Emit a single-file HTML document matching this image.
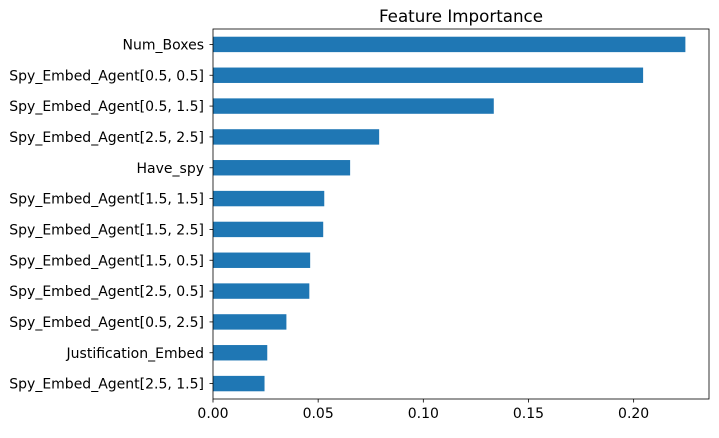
<!DOCTYPE html>
<html><head><meta charset="utf-8"><style>
body{margin:0;background:#fff;font-family:"Liberation Sans","DejaVu Sans",sans-serif;}
svg text{font-family:"DejaVu Sans","Liberation Sans",sans-serif;font-size:14px;fill:#000;}
</style></head><body>
<svg id="chart" width="719" height="433" viewBox="0 0 719 433" xmlns="http://www.w3.org/2000/svg"></svg>
<script>
const categories = ["Spy_Embed_Agent[2.5, 1.5]","Justification_Embed","Spy_Embed_Agent[0.5, 2.5]","Spy_Embed_Agent[2.5, 0.5]","Spy_Embed_Agent[1.5, 0.5]","Spy_Embed_Agent[1.5, 2.5]","Spy_Embed_Agent[1.5, 1.5]","Have_spy","Spy_Embed_Agent[2.5, 2.5]","Spy_Embed_Agent[0.5, 1.5]","Spy_Embed_Agent[0.5, 0.5]","Num_Boxes"];
const values = [0.0245,0.0258,0.0349,0.0458,0.0462,0.0524,0.0529,0.0652,0.079,0.1335,0.2045,0.2246];
const xTicks = [0,0.05,0.10,0.15,0.20];
const xTickLabels = ["0.00","0.05","0.10","0.15","0.20"];

const NS="http://www.w3.org/2000/svg";
const svg=document.getElementById('chart');
const L=213,R=709,T=29,B=399;
const xMax=Math.max(...values)*1.05;
const x=v=>L+(v/xMax)*(R-L);
const step=(B-T)/categories.length;
const y=i=>B-step*(i+0.5);
function mk(tag,attrs){const e=document.createElementNS(NS,tag);for(const k in attrs)e.setAttribute(k,attrs[k]);svg.appendChild(e);return e;}

categories.forEach((c,i)=>{
  const r=mk('rect',{x:x(0),y:y(i)-step*0.25,width:x(values[i])-x(0),height:step*0.5,fill:'#1f77b4'});
  
  
  const tk=mk('line',{x1:L-3.5,x2:L,y1:y(i),y2:y(i),stroke:'#000','stroke-width':0.8});
  
  
  const t=mk('text',{x:L-9,y:y(i)+5,'text-anchor':'end'});
  t.textContent=c;
  
  
});
xTicks.forEach((v,i)=>{
  const tk=mk('line',{x1:x(v),x2:x(v),y1:B,y2:B+3.5,stroke:'#000','stroke-width':0.8});
  
  
  const t=mk('text',{x:x(v),y:B+19,'text-anchor':'middle'});
  t.textContent=xTickLabels[i];
  
  
});
const frame=mk('rect',{x:L,y:T,width:R-L,height:B-T,fill:'none',stroke:'#000','stroke-width':0.8});


const title=mk('text',{x:(L+R)/2,y:T-7,'text-anchor':'middle',style:'font-size:16.7px'});
title.textContent='Feature Importance';


</script>
</body></html>
